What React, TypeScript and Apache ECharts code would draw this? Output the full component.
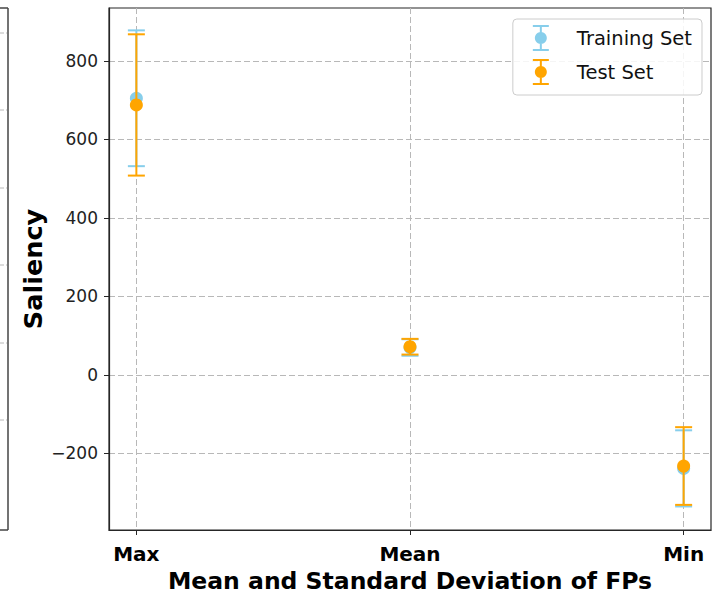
import React, { useEffect, useRef } from "react";
import * as echarts from "echarts";

const categories = ["Max", "Mean", "Min"];
const trainMeans = [705, 70, -238];
const trainStds = [173, 21, 97];
const testMeans = [688, 72, -232];
const testStds = [180, 20, 99];
const yTicks = [-200, 0, 200, 400, 600, 800];
const xTicks = [0, 1, 2];

const FONT = "DejaVu Sans";
const BLUE = "#87CEEB";
const ORANGE = "#FFA500";
const GRID = "#b8b8b8";

const legendIcon =
  "path://M0,0H16V2H0Z M7,2H9V24H7Z M0,24H16V26H0Z M8,7A6,6 0 1 1 7.99,7Z";

function makeSeries(name: string, means: number[], stds: number[], color: string) {
  return {
    type: "custom",
    name,
    itemStyle: { color },
    encode: { x: 0, y: 1 },
    data: means.map((m, i) => [i, m, stds[i]]),
    renderItem: (params: any, api: any) => {
      const x = api.value(0);
      const m = api.value(1);
      const s = api.value(2);
      const top = api.coord([x, m + s]);
      const bot = api.coord([x, m - s]);
      const c = api.coord([x, m]);
      const hw = 8.5;
      const st = { stroke: color, lineWidth: 2 };
      return {
        type: "group",
        children: [
          { type: "line", shape: { x1: top[0], y1: top[1], x2: bot[0], y2: bot[1] }, style: st },
          { type: "line", shape: { x1: top[0] - hw, y1: top[1], x2: top[0] + hw, y2: top[1] }, style: st },
          { type: "line", shape: { x1: bot[0] - hw, y1: bot[1], x2: bot[0] + hw, y2: bot[1] }, style: st },
          { type: "circle", shape: { cx: c[0], cy: c[1], r: 6.5 }, style: { fill: color } },
        ],
      };
    },
  };
}

export default function App() {
  const ref = useRef<HTMLDivElement>(null);
  useEffect(() => {
    if (!ref.current) return;
    const chart = echarts.init(ref.current, undefined, { renderer: "svg" });
    const leftGrid = [33, 110, 188, 265, 343, 420];
    chart.setOption({
      animation: false,
      backgroundColor: "#ffffff",
      textStyle: { fontFamily: FONT },
      grid: {
        left: 109,
        right: 15,
        top: 8,
        bottom: 70,
        show: true,
        borderColor: "#262626",
        borderWidth: 1.2,
        containLabel: false,
      },
      legend: {
        orient: "vertical",
        right: 24,
        top: 19,
        padding: [6, 10, 10, 20],
        itemGap: 8,
        itemWidth: 16,
        itemHeight: 26,
        backgroundColor: "rgba(255,255,255,0.85)",
        borderColor: "#cccccc",
        borderWidth: 1,
        borderRadius: 4,
        textStyle: { fontFamily: FONT, fontSize: 19.5, color: "#111", padding: [0, 0, 0, 23] },
        data: [
          { name: "Training Set", icon: legendIcon },
          { name: "Test Set", icon: legendIcon },
        ],
      },
      xAxis: {
        type: "value",
        min: -0.1,
        max: 2.1,
        name: "Mean and Standard Deviation of FPs",
        nameLocation: "middle",
        nameGap: 39,
        nameMoveOverlap: false,
        nameTextStyle: { fontFamily: FONT, fontSize: 23.5, fontWeight: "bold", color: "#000" },
        axisLine: { show: true, onZero: false, lineStyle: { color: "#262626", width: 1.2 } },
        axisTick: { show: true, length: 5, customValues: xTicks, lineStyle: { color: "#262626" } },
        axisLabel: {
          customValues: xTicks,
          margin: 14,
          fontFamily: FONT,
          fontSize: 20,
          fontWeight: "bold",
          color: "#000",
          formatter: (v: number) => categories[Math.round(v)] ?? "",
        },
        splitLine: { show: true, lineStyle: { color: GRID, type: [6, 3], width: 1 } },
      },
      yAxis: {
        type: "value",
        min: -395,
        max: 935,
        name: "Saliency",
        nameLocation: "middle",
        nameGap: 63,
        nameMoveOverlap: false,
        nameTextStyle: { fontFamily: FONT, fontSize: 25.5, fontWeight: "bold", color: "#000" },
        axisLine: { show: true, onZero: false, lineStyle: { color: "#262626", width: 1.2 } },
        axisTick: { show: true, length: 5, customValues: yTicks, lineStyle: { color: "#262626" } },
        axisLabel: {
          customValues: yTicks,
          margin: 11,
          fontFamily: FONT,
          fontSize: 17,
          color: "#222",
          formatter: (v: number) => (v < 0 ? "\u2212" + Math.abs(v) : String(v)),
        },
        splitLine: { show: true, lineStyle: { color: GRID, type: [6, 3], width: 1 } },
      },
      graphic: [
        { type: "line", shape: { x1: 8, y1: 8, x2: 8, y2: 530 }, style: { stroke: "#444", lineWidth: 1.5 } },
        { type: "line", shape: { x1: 0, y1: 8, x2: 8, y2: 8 }, style: { stroke: "#444", lineWidth: 1.5 } },
        { type: "line", shape: { x1: 0, y1: 530, x2: 8, y2: 530 }, style: { stroke: "#444", lineWidth: 1.5 } },
        ...leftGrid.map((y) => ({
          type: "line",
          shape: { x1: 0, y1: y, x2: 7, y2: y },
          style: { stroke: GRID, lineWidth: 1, lineDash: [4, 2] },
        })),
      ],
      series: [
        makeSeries("Training Set", trainMeans, trainStds, BLUE),
        makeSeries("Test Set", testMeans, testStds, ORANGE),
      ],
    });
    return () => chart.dispose();
  }, []);
  return (
    <div
      ref={ref}
      style={{ position: "fixed", left: 0, top: 0, width: 726, height: 600, background: "#fff" }}
    />
  );
}
